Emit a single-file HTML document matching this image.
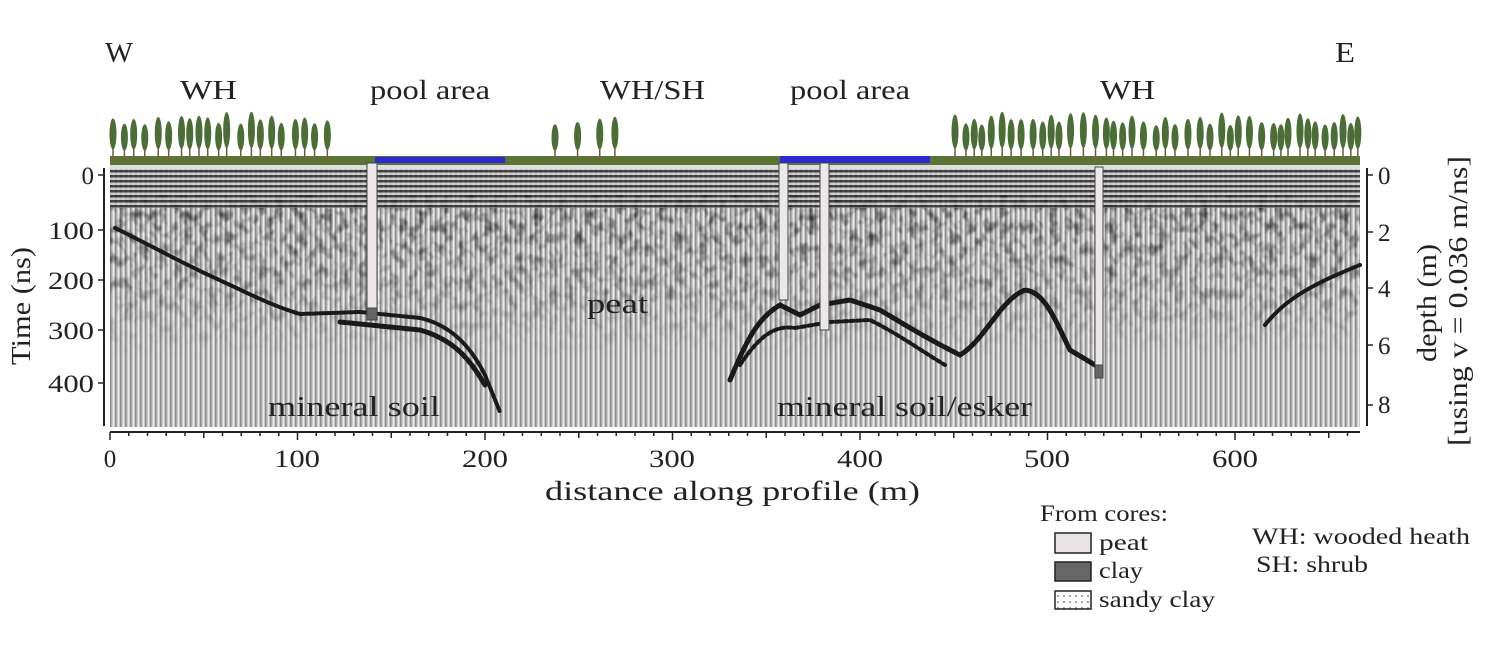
<!DOCTYPE html>
<html><head><meta charset="utf-8"><style>
body{margin:0;background:#fff;}
svg text{font-family:"Liberation Serif",serif;fill:#222;}
</style></head><body>
<svg id="s" width="1489" height="642" viewBox="0 0 1489 642" xmlns="http://www.w3.org/2000/svg">
<defs>
<pattern id="vs" width="5" height="10" patternUnits="userSpaceOnUse">
<rect width="5" height="10" fill="#c8c8c8"/><rect x="0" width="1.5" height="10" fill="#8e8e8e"/><rect x="3" width="1" height="10" fill="#ececec"/>
</pattern>
<pattern id="hs" width="10" height="5" patternUnits="userSpaceOnUse">
<rect width="10" height="5" fill="#d0d0d0"/><rect y="0" width="10" height="2.5" fill="#222"/>
</pattern>
<filter id="nz"><feTurbulence type="fractalNoise" baseFrequency="0.12 0.09" numOctaves="2" seed="3"/><feColorMatrix values="0 0 0 0 0  0 0 0 0 0  0 0 0 0 0  0 0 0 -2.2 1.25"/></filter>
<linearGradient id="fade" x1="0" y1="0" x2="0" y2="1"><stop offset="0" stop-color="#fff" stop-opacity="1"/><stop offset="0.55" stop-color="#fff" stop-opacity="0.6"/><stop offset="1" stop-color="#fff" stop-opacity="0"/></linearGradient>
<mask id="m"><rect x="110" y="195" width="1250" height="165" fill="url(#fade)"/></mask>
<pattern id="dots" width="6" height="6" patternUnits="userSpaceOnUse"><rect width="6" height="6" fill="#fff"/><circle cx="2" cy="2" r="0.8" fill="#333"/></pattern>
</defs>
<rect x="110" y="165" width="1250" height="262" fill="url(#vs)"/>
<rect x="110" y="195" width="1250" height="165" filter="url(#nz)" mask="url(#m)" opacity="0.75"/>
<rect x="110" y="168" width="1250" height="40" fill="url(#hs)" opacity="0.8"/>
<rect x="110" y="165" width="1250" height="4" fill="#ddd"/>
<g fill="none" stroke="#1a1a1a" stroke-linecap="round">
<path d="M115,228 C150,245 180,262 215,278 S270,305 300,314 L360,312 L420,318 C450,325 470,345 485,375 L500,412" stroke-width="4" stroke-dasharray="5 2"/>
<path d="M340,322 L420,330 C455,340 470,360 485,385" stroke-width="5" stroke-dasharray="6 2"/>
<path d="M730,380 C745,345 755,320 780,305 L800,315 L820,305 L850,300 L880,310 C905,325 930,340 960,355 C985,340 1000,300 1025,290 C1045,292 1055,320 1070,350 L1100,368" stroke-width="5" stroke-dasharray="6 2"/>
<path d="M740,365 C760,335 775,325 795,328 L830,322 L870,320 C900,335 920,350 945,365" stroke-width="4" stroke-dasharray="4 3"/>
<path d="M1265,325 C1285,300 1310,285 1360,265" stroke-width="4" stroke-dasharray="5 2"/>
</g>
<g id="trees"></g>
<rect x="110" y="156" width="1250" height="9" fill="#5f7236"/>
<rect x="375" y="157" width="130" height="6" fill="#2a2ad0"/>
<rect x="780" y="156" width="150" height="7" fill="#2a2ad0"/>
<g stroke="#444" stroke-width="1">
<rect x="367" y="163" width="10" height="145" fill="#ece8e8"/><rect x="367" y="308" width="10" height="12" fill="#666"/>
<rect x="779" y="163" width="9" height="137" fill="#ece8e8"/>
<rect x="820" y="163" width="9" height="167" fill="#ece8e8"/>
<rect x="1095" y="167" width="8" height="198" fill="#ece8e8"/><rect x="1095" y="365" width="8" height="13" fill="#666"/>
</g>
<g stroke="#222" stroke-width="2" fill="none">
<line x1="104" y1="168" x2="104" y2="426"/>
<line x1="110" y1="432" x2="1360" y2="432"/>
<line x1="1367" y1="168" x2="1367" y2="426"/>
</g>
<g id="ticks" stroke="#222" stroke-width="1.5"></g>
<g font-size="25" text-anchor="end">
<text x="94" y="184">0</text><text x="94" y="239" textLength="46" lengthAdjust="spacingAndGlyphs">100</text><text x="94" y="289" textLength="46" lengthAdjust="spacingAndGlyphs">200</text><text x="94" y="339" textLength="46" lengthAdjust="spacingAndGlyphs">300</text><text x="94" y="392" textLength="46" lengthAdjust="spacingAndGlyphs">400</text>
</g>
<g font-size="25">
<text x="1378" y="184">0</text><text x="1378" y="241">2</text><text x="1378" y="297">4</text><text x="1378" y="354">6</text><text x="1378" y="413">8</text>
</g>
<g font-size="25" text-anchor="middle">
<text x="110" y="467">0</text><text x="297" y="467" textLength="46" lengthAdjust="spacingAndGlyphs">100</text><text x="485" y="467" textLength="46" lengthAdjust="spacingAndGlyphs">200</text><text x="672" y="467" textLength="46" lengthAdjust="spacingAndGlyphs">300</text><text x="860" y="467" textLength="46" lengthAdjust="spacingAndGlyphs">400</text><text x="1047" y="467" textLength="46" lengthAdjust="spacingAndGlyphs">500</text><text x="1235" y="467" textLength="46" lengthAdjust="spacingAndGlyphs">600</text>
</g>
<text x="545" y="500" font-size="27" textLength="375" lengthAdjust="spacingAndGlyphs">distance along profile (m)</text>
<text transform="translate(30,365) rotate(-90)" font-size="27" textLength="118" lengthAdjust="spacingAndGlyphs">Time (ns)</text>
<text transform="translate(1436,362) rotate(-90)" font-size="27" textLength="118" lengthAdjust="spacingAndGlyphs">depth (m)</text>
<text transform="translate(1467,446) rotate(-90)" font-size="27" textLength="290" lengthAdjust="spacingAndGlyphs">[using v = 0.036 m/ns]</text>
<text x="105" y="62" font-size="28" textLength="28" lengthAdjust="spacingAndGlyphs">W</text><text x="1335" y="62" font-size="28" textLength="20" lengthAdjust="spacingAndGlyphs">E</text>
<g font-size="27">
<text x="180" y="99" textLength="57" lengthAdjust="spacingAndGlyphs">WH</text><text x="370" y="99" textLength="120" lengthAdjust="spacingAndGlyphs">pool area</text><text x="600" y="99" textLength="105" lengthAdjust="spacingAndGlyphs">WH/SH</text><text x="790" y="99" textLength="120" lengthAdjust="spacingAndGlyphs">pool area</text><text x="1100" y="99" textLength="55" lengthAdjust="spacingAndGlyphs">WH</text>
</g>
<text x="587" y="313" font-size="28" textLength="61" lengthAdjust="spacingAndGlyphs">peat</text>
<text x="268" y="416" font-size="29" textLength="172" lengthAdjust="spacingAndGlyphs">mineral soil</text>
<text x="777" y="416" font-size="29" textLength="255" lengthAdjust="spacingAndGlyphs">mineral soil/esker</text>
<text x="1040" y="521" font-size="23" textLength="128" lengthAdjust="spacingAndGlyphs">From cores:</text>
<g stroke="#222" stroke-width="1.5">
<rect x="1055" y="533" width="36" height="20" fill="#e8e4e4"/>
<rect x="1055" y="562" width="36" height="19" fill="#666"/>
<rect x="1055" y="591" width="36" height="18" fill="url(#dots)"/>
</g>
<g font-size="23"><text x="1099" y="550" textLength="49" lengthAdjust="spacingAndGlyphs">peat</text><text x="1099" y="578" textLength="44" lengthAdjust="spacingAndGlyphs">clay</text><text x="1099" y="607" textLength="116" lengthAdjust="spacingAndGlyphs">sandy clay</text>
<text x="1252" y="544" textLength="218" lengthAdjust="spacingAndGlyphs">WH: wooded heath</text><text x="1256" y="572" textLength="112" lengthAdjust="spacingAndGlyphs">SH: shrub</text></g>
</svg>
<script>
var NS="http://www.w3.org/2000/svg",t=document.getElementById("trees"),k=document.getElementById("ticks");
function tree(x,h){var g=document.createElementNS(NS,"g");
g.innerHTML='<line x1="'+x+'" y1="158" x2="'+x+'" y2="'+(158-h)+'" stroke="#6b5a3a" stroke-width="1.5"/><ellipse cx="'+x+'" cy="'+(158-h*0.62)+'" rx="3.5" ry="'+(h*0.4)+'" fill="#4a6e35"/>';t.appendChild(g);}
var r=7;function rnd(){r=(r*9301+49297)%233280;return r/233280;}
function zone(a,b,step){for(var x=a;x<b;x+=step*(0.7+rnd()*0.6))tree(x,32+rnd()*14);}
zone(113,335,11);zone(555,620,18);zone(955,1358,10);
for(var i=0;i<=66;i++){var x=110+i*18.75,l=(i%10==0)?8:(i%5==0?6:4);var ln=document.createElementNS(NS,"line");ln.setAttribute("x1",x);ln.setAttribute("x2",x);ln.setAttribute("y1",432);ln.setAttribute("y2",432+l);k.appendChild(ln);}
[175,230,280,330,383].forEach(function(y){var ln=document.createElementNS(NS,"line");ln.setAttribute("x1",98);ln.setAttribute("x2",104);ln.setAttribute("y1",y);ln.setAttribute("y2",y);k.appendChild(ln);});
[175,232,288,345,405].forEach(function(y){var ln=document.createElementNS(NS,"line");ln.setAttribute("x1",1367);ln.setAttribute("x2",1373);ln.setAttribute("y1",y);ln.setAttribute("y2",y);k.appendChild(ln);});
</script>
</body></html>
